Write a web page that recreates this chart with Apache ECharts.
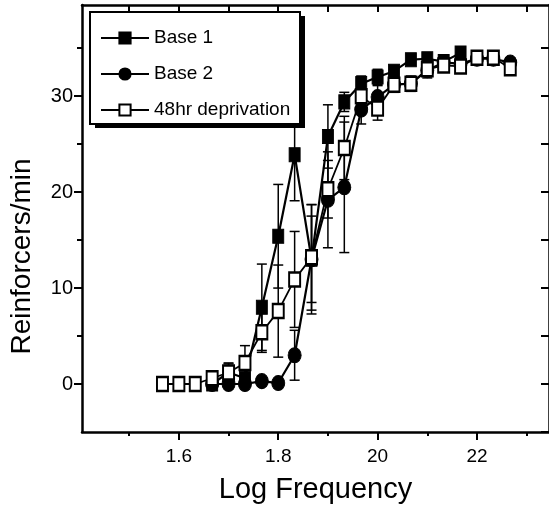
<!DOCTYPE html>
<html>
<head>
<meta charset="utf-8">
<script src="https://cdn.jsdelivr.net/npm/echarts@6/dist/echarts.min.js"></script>
<style>
  html, body { margin: 0; padding: 0; background: #fff; }
  #chart { width: 549px; height: 519px; }
</style>
</head>
<body>
<div id="chart"></div>
<script>
// Reinforcement rate as a function of log stimulation frequency

const FONT = '"Liberation Sans", Arial, sans-serif';

const seriesNames = ['Base 1', 'Base 2', '48hr deprivation'];

// Base 1
const freqBase1 = [1.667, 1.7, 1.733, 1.767, 1.8, 1.833, 1.867, 1.9, 1.933, 1.967, 2.0, 2.033, 2.067, 2.1, 2.133, 2.167];
const base1     = [0, 1.2, 0.6, 8.0, 15.4, 23.9, 13.0, 25.8, 29.4, 31.3, 32.0, 32.6, 33.8, 33.9, 33.6, 34.5];
const base1Err  = [0, 0.9, 0.3, 4.5, 5.4, 4.8, 4.5, 3.3, 1.0, 0.8, 0.8, 0.5, 0.5, 0.5, 0.5, 0.5];

// Base 2
const freqBase2 = [1.667, 1.7, 1.733, 1.767, 1.8, 1.833, 1.867, 1.9, 1.933, 1.967, 2.0, 2.033, 2.067, 2.1, 2.133, 2.167, 2.2, 2.233, 2.267];
const base2     = [0, 0, 0, 0.3, 0.1, 3.0, 13.0, 19.2, 20.5, 28.6, 29.9, 31.2, 31.3, 32.7, 33.5, 33.4, 33.9, 33.9, 33.5];
const base2Err  = [0, 0, 0, 0, 0, 2.6, 5.7, 5.0, 6.8, 1.5, 1.2, 0.8, 0.8, 0.8, 0.6, 0.6, 0.6, 0.6, 0.5];

// 48 hr deprivation
const freqDep = [1.567, 1.6, 1.633, 1.667, 1.7, 1.733, 1.767, 1.8, 1.833, 1.867, 1.9, 1.933, 1.967, 2.0, 2.033, 2.067, 2.1, 2.133, 2.167, 2.2, 2.233, 2.267];
const dep48   = [0, 0, 0, 0.6, 1.2, 2.2, 5.4, 7.6, 10.9, 13.2, 20.3, 24.6, 30.0, 28.7, 31.2, 31.3, 32.8, 33.2, 33.1, 34.0, 34.0, 32.9];
const dep48Err = [0, 0, 0, 0.4, 1.0, 1.8, 2.1, 4.8, 5.0, 5.5, 3.0, 3.3, 1.0, 1.2, 0.6, 0.6, 0.6, 0.5, 0.5, 0.4, 0.4, 0.5];

// Axis ticks and labels
const xTickValues  = [1.6, 1.8, 2.0, 2.2];
const xTickText    = ['1.6', '1.8', '20', '22'];
const xMinorValues = [1.5, 1.7, 1.9, 2.1, 2.3];
const xTopValues   = [1.5, 1.6, 1.7, 1.8, 1.9, 2.0, 2.1, 2.2, 2.3];
const yTickValues  = [0, 10, 20, 30];
const yMinorValues = [5, 15, 25, 35];
const yRightValues = [-5, 0, 5, 10, 15, 20, 25, 30, 35];

const X_MIN = 1.405, X_MAX = 2.345, Y_MIN = -5, Y_MAX = 39.5;

// Legend frame (box with a solid drop shadow)
const LEGEND_BOX = { x: 90, y: 12, width: 210, height: 112 };
const SHADOW_OFFSET = [5, 4];

function pairs(xs, ys) { return xs.map((x, i) => [x, ys[i]]); }
function errData(xs, ys, es) {
  const out = [];
  xs.forEach((x, i) => { if (es[i] > 0) out.push([x, ys[i] - es[i], ys[i] + es[i]]); });
  return out;
}

function errorBarSeries(data) {
  return {
    type: 'custom',
    data: data,
    encode: { x: 0, y: [1, 2] },
    z: 1,
    silent: true,
    clip: true,
    renderItem: function (params, api) {
      const x = api.value(0);
      const lo = api.coord([x, api.value(1)]);
      const hi = api.coord([x, api.value(2)]);
      const hw = 5;
      const st = { stroke: '#000', lineWidth: 1.5 };
      return {
        type: 'group',
        children: [
          { type: 'line', shape: { x1: hi[0], y1: hi[1], x2: lo[0], y2: lo[1] }, style: st },
          { type: 'line', shape: { x1: hi[0] - hw, y1: hi[1], x2: hi[0] + hw, y2: hi[1] }, style: st },
          { type: 'line', shape: { x1: lo[0] - hw, y1: lo[1], x2: lo[0] + hw, y2: lo[1] }, style: st }
        ]
      };
    }
  };
}

const baseX = { type: 'value', min: X_MIN, max: X_MAX, gridIndex: 0 };
const baseY = { type: 'value', min: Y_MIN, max: Y_MAX, gridIndex: 0 };
const frameLine = { show: true, onZero: false, lineStyle: { color: '#000', width: 2.5 } };
const noLine = { show: false, onZero: false };

const option = {
  animation: false,
  backgroundColor: '#fff',
  grid: { left: 82, right: -1, top: 5, bottom: 87 },
  graphic: [
    {
      type: 'rect', z: 10, silent: true,
      shape: { x: LEGEND_BOX.x + SHADOW_OFFSET[0], y: LEGEND_BOX.y + SHADOW_OFFSET[1], width: LEGEND_BOX.width, height: LEGEND_BOX.height },
      style: { fill: '#000' }
    },
    {
      type: 'rect', z: 11, silent: true,
      shape: LEGEND_BOX,
      style: { fill: '#fff', stroke: '#000', lineWidth: 2 }
    }
  ],
  xAxis: [
    Object.assign({}, baseX, {
      position: 'bottom',
      name: 'Log Frequency',
      nameLocation: 'middle',
      nameGap: 43,
      nameTextStyle: { fontFamily: FONT, fontSize: 29, color: '#000' },
      axisLine: frameLine,
      axisTick: { show: true, inside: false, length: 8, lineStyle: { color: '#000', width: 2 }, customValues: xTickValues },
      axisLabel: {
        show: true, margin: 15, fontFamily: FONT, fontSize: 19, color: '#000',
        customValues: xTickValues,
        formatter: function (v) {
          const i = xTickValues.findIndex(t => Math.abs(t - v) < 1e-6);
          return i >= 0 ? xTickText[i] : '';
        }
      },
      splitLine: { show: false }
    }),
    Object.assign({}, baseX, {
      position: 'bottom',
      axisLine: noLine,
      axisTick: { show: true, inside: false, length: 4, lineStyle: { color: '#000', width: 2 }, customValues: xMinorValues },
      axisLabel: { show: false },
      splitLine: { show: false }
    }),
    Object.assign({}, baseX, {
      position: 'top',
      axisLine: frameLine,
      axisTick: { show: true, inside: true, length: 7, lineStyle: { color: '#000', width: 2 }, customValues: xTopValues },
      axisLabel: { show: false },
      splitLine: { show: false }
    })
  ],
  yAxis: [
    Object.assign({}, baseY, {
      position: 'left',
      name: 'Reinforcers/min',
      nameLocation: 'middle',
      nameRotate: 90,
      nameGap: 46,
      nameTextStyle: { fontFamily: FONT, fontSize: 28, color: '#000', padding: [0, 76, 0, 0] },
      axisLine: frameLine,
      axisTick: { show: true, inside: false, length: 8, lineStyle: { color: '#000', width: 2 }, customValues: yTickValues },
      axisLabel: { show: true, margin: 9, fontFamily: FONT, fontSize: 20, color: '#000', customValues: yTickValues },
      splitLine: { show: false }
    }),
    Object.assign({}, baseY, {
      position: 'left',
      axisLine: noLine,
      axisTick: { show: true, inside: false, length: 5, lineStyle: { color: '#000', width: 2 }, customValues: yMinorValues },
      axisLabel: { show: false },
      splitLine: { show: false }
    }),
    Object.assign({}, baseY, {
      position: 'right',
      axisLine: frameLine,
      axisTick: { show: true, inside: true, length: 8, lineStyle: { color: '#000', width: 2 }, customValues: yRightValues },
      axisLabel: { show: false },
      splitLine: { show: false }
    })
  ],
  legend: {
    data: seriesNames,
    orient: 'vertical',
    left: 90,
    top: 14,
    z: 20,
    padding: [13, 10, 7, 10],
    itemWidth: 48,
    itemHeight: 14,
    itemGap: 14,
    selectedMode: false,
    textStyle: { fontFamily: FONT, fontSize: 19, lineHeight: 22, color: '#000' }
  },
  series: [
    errorBarSeries(errData(freqBase1, base1, base1Err)),
    errorBarSeries(errData(freqBase2, base2, base2Err)),
    errorBarSeries(errData(freqDep, dep48, dep48Err)),
    {
      name: seriesNames[0], type: 'line', data: pairs(freqBase1, base1), z: 3,
      symbol: 'rect', symbolSize: [11, 14],
      lineStyle: { color: '#000', width: 2.2 },
      itemStyle: { color: '#000', borderColor: '#000', borderWidth: 1 }
    },
    {
      name: seriesNames[1], type: 'line', data: pairs(freqBase2, base2), z: 4,
      symbol: 'circle', symbolSize: [13, 15],
      lineStyle: { color: '#000', width: 2.2 },
      itemStyle: { color: '#000', borderColor: '#000', borderWidth: 1 }
    },
    {
      name: seriesNames[2], type: 'line', data: pairs(freqDep, dep48), z: 5,
      symbol: 'rect', symbolSize: [11, 14],
      lineStyle: { color: '#000', width: 1.8 },
      itemStyle: { color: '#fff', borderColor: '#000', borderWidth: 2.2 }
    }
  ]
};

const chart = echarts.init(document.getElementById('chart'), null, { renderer: 'canvas' });
chart.setOption(option);
</script>
</body>
</html>
